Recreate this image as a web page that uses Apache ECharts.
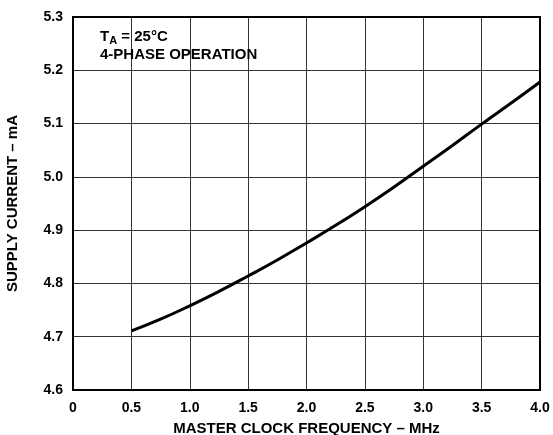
<!DOCTYPE html>
<html>
<head>
<meta charset="utf-8">
<script src="https://cdn.jsdelivr.net/npm/echarts@6/dist/echarts.min.js"></script>
<style>
  html, body { margin: 0; padding: 0; background: #fff; }
  #chart { width: 553px; height: 435px; }
</style>
</head>
<body>
<div id="chart"></div>
<script>
// master clock frequency (MHz) and supply current (mA)
const freqMHz = [0.5, 0.75, 1.0, 1.25, 1.5, 1.75, 2.0, 2.25, 2.5, 2.75, 3.0, 3.25, 3.5, 3.75, 4.0]
const currentMA = [4.711, 4.733, 4.758, 4.785, 4.814, 4.844, 4.876, 4.909, 4.944, 4.981, 5.02, 5.059, 5.099, 5.138, 5.178]

const font = 'Liberation Sans, Arial, Helvetica, sans-serif'
const chart = echarts.init(document.getElementById('chart'))

chart.setOption({
  animation: false,
  grid: { left: 73, right: 13, top: 17, bottom: 45, outerBoundsMode: 'none', containLabel: false },
  xAxis: {
    type: 'value',
    min: 0, max: 4, interval: 0.5,
    name: 'MASTER CLOCK FREQUENCY – MHz',
    nameLocation: 'middle',
    nameGap: 31,
    nameTextStyle: { fontFamily: font, fontWeight: 'bold', fontSize: 15, color: '#000' },
    axisLine: { show: false },
    axisTick: { show: false },
    axisLabel: {
      margin: 11, color: '#000', fontFamily: font, fontWeight: 'bold', fontSize: 14,
      formatter: v => v === 0 ? '0' : v.toFixed(1)
    },
    splitLine: { lineStyle: { color: '#333', width: 1 } }
  },
  yAxis: {
    type: 'value',
    min: 4.6, max: 5.3, interval: 0.1,
    name: 'SUPPLY CURRENT – mA',
    nameLocation: 'middle',
    nameGap: 53,
    nameTextStyle: { fontFamily: font, fontWeight: 'bold', fontSize: 15, color: '#000' },
    axisLine: { show: false },
    axisTick: { show: false },
    axisLabel: {
      margin: 10, color: '#000', fontFamily: font, fontWeight: 'bold', fontSize: 14,
      formatter: v => v.toFixed(1)
    },
    splitLine: { lineStyle: { color: '#333', width: 1 } }
  },
  graphic: [
    {
      type: 'rect', z: 10, silent: true,
      shape: { x: 73, y: 17, width: 467, height: 373 },
      style: { fill: 'none', stroke: '#000', lineWidth: 2 }
    },
    {
      type: 'text', left: 100, top: 28, z: 10,
      style: {
        text: '{t|T}{s|A}{t| = 25°C}\n{t|4-PHASE OPERATION}',
        rich: {
          t: { fontFamily: font, fontWeight: 'bold', fontSize: 15, fill: '#000', lineHeight: 18 },
          s: { fontFamily: font, fontWeight: 'bold', fontSize: 11, fill: '#000', padding: [7, 0, 0, 0], lineHeight: 18 }
        }
      }
    }
  ],
  series: [{
    type: 'line',
    data: freqMHz.map((f, i) => [f, currentMA[i]]),
    smooth: true,
    showSymbol: false,
    lineStyle: { color: '#000', width: 3 }
  }]
})
</script>
</body>
</html>
